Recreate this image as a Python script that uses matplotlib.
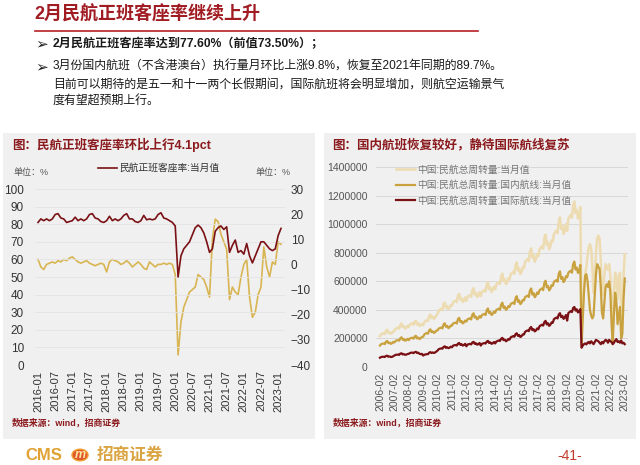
import matplotlib
matplotlib.use("Agg")
import matplotlib.pyplot as plt
from matplotlib.patches import Rectangle, Circle
from matplotlib.lines import Line2D
import numpy as np

plt.rcParams['font.family'] = ['Liberation Sans', 'Noto Sans CJK SC', 'DejaVu Sans']

W, H = 640, 465

# ---- left chart: 2016-01 .. 2023-02, monthly
load_months = [f"{y}-{m:02d}" for y in range(2016, 2024) for m in range(1, 13)][:86]
load_factor = [
    81, 83, 82, 83, 82, 83, 85.5, 86, 83.5, 83, 81, 81.5,
    82, 84, 82, 83, 82, 83, 85.5, 86, 83.5, 83, 81.5, 81,
    82, 84.5, 82, 83, 82, 83, 85, 86, 83, 83, 81.5, 81,
    82, 85, 82.5, 83, 82.5, 83, 85.5, 86.5, 83.5, 83, 82, 81,
    79, 50, 62, 66, 68, 70, 74, 78, 79.5, 78, 75, 70,
    64, 66, 76, 78, 79, 77, 78.5, 64, 68, 71, 64, 65,
    63, 69, 62, 58, 62, 66, 70, 70, 68, 66, 65, 66,
    73.5, 77.6,
]
load_yoy = [
    2, -1, -2, 0, 0.5, 1, 0.5, 1.5, 1, 2, 1.5, 2.5,
    3, 2, 1, 0.5, 1, 1.5, 0.5, 0, -0.5, 0, 0.5, 0,
    -3, 1, 2, 1.5, 1, 0, 0.5, 1.5, 0.5, -1, 0, 1,
    0, -1.5, -2, 1, 0, -1, 0, 0, 0.5, 0, 0.5, 0,
    -4, -36, -23, -17, -14, -11, -10, -9, -4, -5, -6, -9,
    -13, 10, 18, 17, 12, 9, 6, -14, -9, -11, -12, -5,
    0, 2, -13, -21, -19, -12, -9, 7, -1, -5, 1, 0,
    9, 8,
]
load_ticks = list(range(0, 86, 6))

# ---- right chart: 2006-02 .. 2023-02, monthly, thousands
rtk_months = [f"{y}-{m:02d}" for y in range(2006, 2024) for m in range(1, 13)][1:206]
rtk_total = [
    215, 230, 234, 237, 230, 254, 261, 239, 245, 232, 237, 250,
    252, 268, 272, 276, 269, 296, 304, 279, 285, 269, 275, 288,
    280, 298, 303, 306, 295, 318, 324, 298, 306, 287, 292, 302,
    292, 314, 322, 328, 323, 356, 368, 342, 352, 336, 346, 363,
    371, 395, 401, 406, 398, 438, 451, 416, 426, 404, 413, 432,
    428, 455, 460, 465, 454, 499, 512, 471, 482, 455, 466, 487,
    463, 491, 498, 503, 491, 538, 552, 508, 519, 490, 501, 524,
    496, 525, 533, 540, 528, 576, 593, 545, 557, 526, 538, 563,
    545, 578, 586, 594, 582, 635, 654, 602, 615, 580, 594, 622,
    612, 649, 658, 667, 653, 712, 732, 675, 690, 650, 666, 698,
    694, 737, 747, 756, 741, 807, 830, 765, 782, 737, 756, 792,
    776, 824, 835, 846, 828, 902, 927, 855, 874, 824, 844, 885,
    878, 931, 944, 955, 937, 1019, 1047, 966, 988, 931, 953, 999,
    953, 1038, 1053, 1065, 1045, 1133, 1158, 1077, 1100, 1040, 1064, 1120,
    290, 400, 550, 650, 700, 780, 840, 860, 830, 700, 520, 600,
    800, 900, 920, 900, 750, 500, 520, 640, 720, 700, 680, 720,
    640, 450, 320, 520, 660, 640, 480, 600, 660, 380, 340, 640,
    790,
]
rtk_domestic = [
    150, 160, 163, 165, 160, 177, 182, 167, 171, 162, 166, 175,
    172, 183, 186, 189, 184, 202, 208, 191, 195, 184, 188, 197,
    188, 200, 203, 205, 198, 214, 218, 200, 206, 195, 202, 210,
    212, 228, 234, 238, 233, 256, 264, 244, 250, 238, 244, 255,
    256, 270, 273, 276, 270, 298, 306, 282, 288, 272, 278, 290,
    290, 305, 308, 311, 304, 335, 344, 316, 322, 305, 312, 325,
    318, 334, 338, 341, 333, 366, 376, 346, 353, 334, 341, 356,
    346, 363, 368, 372, 364, 398, 410, 377, 385, 364, 372, 388,
    380, 400, 404, 408, 400, 437, 450, 414, 423, 400, 408, 426,
    420, 441, 446, 451, 441, 482, 496, 457, 466, 440, 450, 470,
    466, 490, 495, 500, 490, 535, 550, 507, 517, 488, 500, 522,
    512, 538, 544, 550, 538, 588, 604, 557, 568, 536, 548, 573,
    568, 596, 603, 609, 597, 652, 670, 617, 630, 594, 607, 635,
    628, 660, 668, 674, 660, 720, 738, 682, 696, 658, 672, 715,
    150, 330, 520, 640, 650, 600, 500, 400, 360, 340, 360, 500,
    650, 720, 700, 690, 560, 380, 340, 450, 560, 580, 560, 600,
    520, 300, 160, 380, 520, 460, 300, 360, 420, 200, 230, 480,
    620,
]
rtk_intl = [
    65, 70, 71, 72, 70, 77, 79, 72, 74, 70, 71, 75,
    80, 85, 86, 87, 85, 94, 96, 88, 90, 85, 87, 91,
    92, 98, 100, 101, 97, 104, 106, 98, 100, 92, 90, 92,
    80, 86, 88, 90, 90, 100, 104, 98, 102, 98, 102, 108,
    115, 125, 128, 130, 128, 140, 145, 134, 138, 132, 135, 142,
    138, 150, 152, 154, 150, 164, 168, 155, 160, 150, 154, 162,
    145, 157, 160, 162, 158, 172, 176, 162, 166, 156, 160, 168,
    150, 162, 165, 168, 164, 178, 183, 168, 172, 162, 166, 175,
    165, 178, 182, 186, 182, 198, 204, 188, 192, 180, 186, 196,
    192, 208, 212, 216, 212, 230, 236, 218, 224, 210, 216, 228,
    228, 247, 252, 256, 251, 272, 280, 258, 265, 249, 256, 270,
    264, 286, 291, 296, 290, 314, 323, 298, 306, 288, 296, 312,
    310, 335, 341, 346, 340, 367, 377, 349, 358, 337, 346, 364,
    325, 378, 385, 391, 385, 413, 420, 395, 404, 382, 392, 405,
    135, 150, 160, 165, 158, 170, 175, 165, 180, 170, 160, 175,
    190, 185, 180, 170, 160, 175, 165, 180, 190, 185, 170, 190,
    180, 175, 160, 170, 185, 195, 175, 180, 170, 185, 165, 170,
    160,
]
rtk_ticks = list(range(0, 205, 12))

MAROON = '#7a1115'
GOLD = '#c9a23f'
LGOLD = '#d8b552'
BEIGE = '#eddcb2'
DARKRED = '#8b1a1e'


def fx(x):
    return x / W


def fy(y):
    return 1 - y / H


fig = plt.figure(figsize=(6.4, 4.65), dpi=100)
fig.patch.set_facecolor('white')

# ---- header
fig.text(fx(34), fy(15), '2月民航正班客座率继续上升', fontsize=13, color='#a01c22',
         fontweight='bold', va='center', ha='left')
fig.add_artist(Line2D([fx(35), fx(478)], [fy(31), fy(31)], color='#b82025', lw=1.2))

for yy in (44, 67):
    fig.text(fx(35), fy(yy), '➢', fontsize=11, color='#222222', va='center', family=['DejaVu Sans'])
fig.text(fx(53), fy(44), '2月民航正班客座率达到77.60%（前值73.50%）；', fontsize=8.7,
         color='#1a1a1a', fontweight='bold', va='center')
fig.text(fx(53), fy(67), '3月份国内航班（不含港澳台）执行量月环比上涨9.8%，恢复至2021年同期的89.7%。',
         fontsize=8.6, color='#1a1a1a', va='center')
fig.text(fx(53), fy(85), '目前可以期待的是五一和十一两个长假期间，国际航班将会明显增加，则航空运输景气',
         fontsize=8.6, color='#1a1a1a', va='center')
fig.text(fx(53), fy(102), '度有望超预期上行。', fontsize=8.6, color='#1a1a1a', va='center')

# ---- panel backgrounds
for x0, x1 in ((3, 315), (324, 636)):
    fig.patches.append(Rectangle((fx(x0), fy(439)), fx(x1 - x0), (439 - 133) / H,
                                 transform=fig.transFigure, facecolor='#f0f0f0',
                                 edgecolor='none', zorder=-5))

# ---- left chart
ax1 = fig.add_axes([fx(35), (H - 365) / H, 250 / W, 176 / H])
ax2 = ax1.twinx()
x_load = np.arange(len(load_factor))
ax2.plot(x_load, load_yoy, color=LGOLD, lw=1.2)
ln1, = ax1.plot(x_load, load_factor, color=MAROON, lw=1.2)
ax1.set_zorder(ax2.get_zorder() + 1)
ax1.patch.set_visible(False)
ax2.patch.set_visible(False)
ax1.set_xlim(-1.05, 86.4)
ax1.set_ylim(0, 100)
ax2.set_ylim(-40, 30)
ax1.set_yticks(range(0, 101, 10))
ax2.set_yticks(range(-40, 31, 10))
ax1.set_xticks(load_ticks)
ax1.set_xticklabels([load_months[i] for i in load_ticks], rotation=90, fontsize=8, color='#333333')
ax1.tick_params(axis='x', length=0, pad=4)
ax1.tick_params(axis='y', length=0, pad=8, labelsize=8.5, labelcolor='#333333')
ax2.tick_params(axis='y', length=0, pad=4, labelsize=8.5, labelcolor='#333333')
for a in (ax1, ax2):
    for s in a.spines.values():
        s.set_visible(False)
ax1.grid(axis='y', color='#e4e4e4', lw=0.6)
ax1.set_axisbelow(True)

fig.text(fx(12), fy(145), '图：民航正班客座率环比上行4.1pct', fontsize=9, color=DARKRED,
         va='center', fontweight='bold')
fig.text(fx(13), fy(172), '单位：%', fontsize=6.5, color='#555555', va='center')
fig.text(fx(255), fy(172), '单位：%', fontsize=6.5, color='#555555', va='center')
ax1.legend([ln1], ['民航正班客座率:当月值'], loc='center left',
           bbox_to_anchor=(fx(93), fy(168)), bbox_transform=fig.transFigure,
           frameon=False, fontsize=7, handlelength=2.0, handletextpad=0.2,
           labelcolor='#333333', borderpad=0)
fig.text(fx(12), fy(423), '数据来源：wind，招商证券', fontsize=6.4, color=DARKRED,
         va='center', fontweight='bold')

# ---- right chart
ax3 = fig.add_axes([fx(376), (H - 367) / H, 252 / W, 200 / H])
ax3.patch.set_visible(False)
x_rtk = np.arange(len(rtk_total))
l_t, = ax3.plot(x_rtk, np.array(rtk_total) * 1000, color=BEIGE, lw=1.8)
l_d, = ax3.plot(x_rtk, np.array(rtk_domestic) * 1000, color=GOLD, lw=1.6)
l_i, = ax3.plot(x_rtk, np.array(rtk_intl) * 1000, color=MAROON, lw=1.6)
ax3.set_xlim(-3.3, 206.7)
ax3.set_ylim(0, 1400000)
ax3.set_yticks(range(0, 1400001, 200000))
ax3.set_yticklabels([str(v) for v in range(0, 1400001, 200000)])
ax3.set_xticks(rtk_ticks)
ax3.set_xticklabels([rtk_months[i] for i in rtk_ticks], rotation=90, fontsize=7.5, color='#555555')
ax3.tick_params(axis='x', length=0, pad=4)
ax3.tick_params(axis='y', length=0, pad=6, labelsize=7.5, labelcolor='#555555')
for s in ax3.spines.values():
    s.set_visible(False)
ax3.grid(axis='y', color='#d8d8d8', lw=0.7)
ax3.set_axisbelow(True)
ax3.legend([l_t, l_d, l_i],
           ['中国:民航总周转量:当月值', '中国:民航总周转量:国内航线:当月值', '中国:民航总周转量:国际航线:当月值'],
           loc='upper left', bbox_to_anchor=(fx(391), fy(160)), bbox_transform=fig.transFigure,
           frameon=False, fontsize=7, handlelength=2.0, handletextpad=0.2, labelspacing=0.55,
           labelcolor='#777777', borderpad=0)

fig.text(fx(332), fy(145), '图：国内航班恢复较好，静待国际航线复苏', fontsize=9, color=DARKRED,
         va='center', fontweight='bold')
fig.text(fx(333), fy(423), '数据来源：wind，招商证券', fontsize=6.4, color=DARKRED,
         va='center', fontweight='bold')

# ---- footer
fig.text(fx(25), fy(455), 'CMS', fontsize=12, color='#e0a233', fontweight='bold', va='center')
fig.patches.append(Circle((fx(80), fy(455)), 8 / W, transform=fig.transFigure,
                          facecolor='#e0572a', edgecolor='#f0a030', lw=1, zorder=2))
fig.text(fx(80), fy(455), 'm', fontsize=9, color='#ffe9a0', fontweight='bold', style='italic',
         ha='center', va='center', zorder=3)
fig.text(fx(97), fy(455), '招商证券', fontsize=12, color='#d9a441', fontweight='bold', va='center')
fig.text(fx(570), fy(456), '-41-', fontsize=10, color='#c0392b', ha='center', va='center')

fig.savefig('out.png', dpi=100, facecolor='white')
